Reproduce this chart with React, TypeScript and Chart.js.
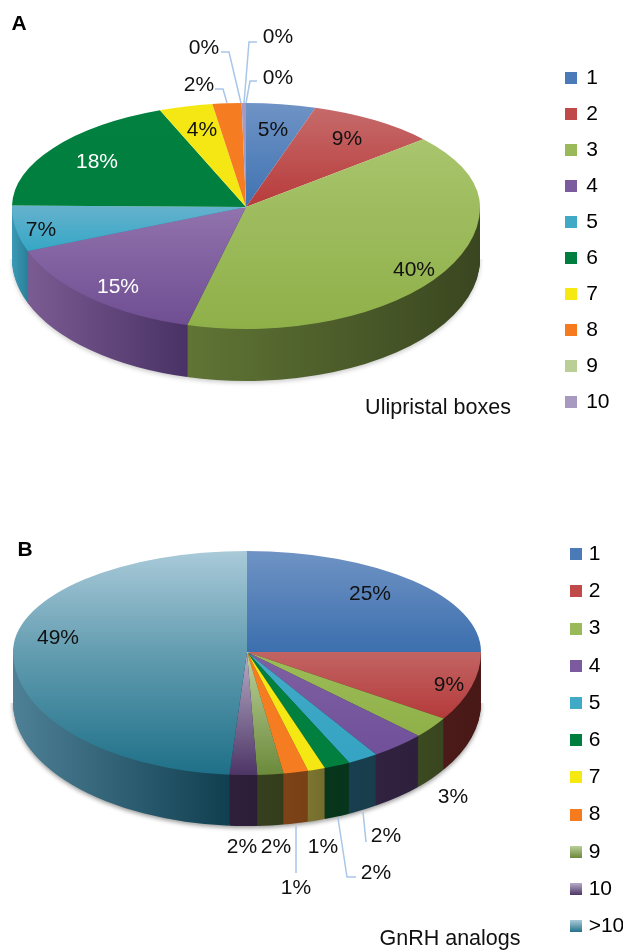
import React, { useEffect, useRef } from "react";
import { Chart, ArcElement, PieController, Legend } from "chart.js";

Chart.register(ArcElement, PieController, Legend);

const FONT = '"Liberation Sans", Arial, sans-serif';

// ---------- Panel A data ----------
const aCategories = ["1", "2", "3", "4", "5", "6", "7", "8", "9", "10"];
const aValues = [4.8, 8.9, 40.4, 15.1, 6.1, 18.8, 3.7, 2.0, 0.0, 0.3];
const aBase = ["#4a7ab8", "#c04a4a", "#9aba59", "#7c5a9e", "#3fa9c6", "#007e3f", "#f6e912", "#f67b1e", "#b9cf96", "#a899c0"];
const aTopLight = ["#6f93c5", "#c66a6a", "#a9c56e", "#9173ad", "#66b2cd", "#018040", "#f5e714", "#f57c20", "#b9cf96", "#a899c0"];
const aTopDark = ["#3f73b2", "#b83b3b", "#8fb049", "#6f4e92", "#35a7c6", "#017f3f", "#f5e714", "#f57c20", "#b9cf96", "#a899c0"];
const aSideLight = ["#2c4f7c", "#5a1f1e", "#607535", "#7b5b92", "#3b9ab6", "#045029", "#7c7430", "#8a4a18", "#5c6a40", "#4a3a5c"];
const aSideDark = ["#1f3a5c", "#3e1513", "#3a4620", "#493265", "#2b7f98", "#033a1d", "#6a6226", "#703a12", "#46522e", "#382a48"];

// ---------- Panel B data ----------
const bCategories = ["1", "2", "3", "4", "5", "6", "7", "8", "9", "10", ">10"];
const bValues = [25.0, 9.1, 2.8, 3.8, 2.1, 1.8, 1.2, 1.7, 1.8, 1.9, 48.8];
const bBase = ["#4a7ab8", "#c04a4a", "#9aba59", "#7c5a9e", "#3fa9c6", "#007e3f", "#f6e912", "#f67b1e", "#8aa863", "#6f5a8c", "#5e9cb4"];
const bTopLight = ["#6f93c4", "#c26464", "#9dbc58", "#7f60a2", "#42abc8", "#018040", "#f5e714", "#f57c20", "#bdd19d", "#b8adc8", "#a9cad9"];
const bTopDark = ["#3c6fae", "#b53a3a", "#8fb049", "#70509a", "#35a3c2", "#017f3f", "#f5e714", "#f57c20", "#6b8a3a", "#4d3566", "#1e7088"];
const bSideLight = ["#2c4f7c", "#4c1b19", "#3c4a20", "#31223f", "#183f50", "#07361d", "#7c7430", "#7e4317", "#36401d", "#2e1f3a", "#4e8096"];
const bSideDark = ["#24416a", "#471816", "#384520", "#2e203c", "#193d4c", "#07351c", "#746c2c", "#784016", "#333d1c", "#2c1d38", "#103f50"];

// ---------- Texts ----------
type Note = { text: string; x: number; y: number; color?: string };
type Leader = number[][];

const aNotes: Note[] = [
  { text: "5%", x: 273, y: 130 },
  { text: "9%", x: 347, y: 139 },
  { text: "40%", x: 414, y: 270 },
  { text: "15%", x: 118, y: 287, color: "#ffffff" },
  { text: "7%", x: 41, y: 230 },
  { text: "18%", x: 97, y: 162, color: "#ffffff" },
  { text: "4%", x: 202, y: 130 },
  { text: "2%", x: 199, y: 85 },
  { text: "0%", x: 204, y: 48 },
  { text: "0%", x: 278, y: 37 },
  { text: "0%", x: 278, y: 78 },
];
const aLeaders: Leader[] = [
  [[215, 89], [223, 89], [227, 103]],
  [[221, 52], [229, 52], [241, 103]],
  [[257, 42], [249, 42], [244, 103]],
  [[257, 81], [250, 81], [246, 103]],
];
const bNotes: Note[] = [
  { text: "25%", x: 370, y: 594 },
  { text: "9%", x: 449, y: 685 },
  { text: "49%", x: 58, y: 638 },
  { text: "3%", x: 453, y: 797 },
  { text: "2%", x: 386, y: 836 },
  { text: "2%", x: 376, y: 873 },
  { text: "1%", x: 296, y: 888 },
  { text: "1%", x: 323, y: 847 },
  { text: "2%", x: 242, y: 847 },
  { text: "2%", x: 276, y: 847 },
];
const bLeaders: Leader[] = [
  [[363, 812], [366, 842]],
  [[338, 818], [347, 877], [356, 877]],
  [[296, 826], [296, 873]],
];

type Panel = {
  categories: string[];
  values: number[];
  base: string[];
  topLight: string[];
  topDark: string[];
  sideLight: string[];
  sideDark: string[];
  notes: Note[];
  leaders: Leader[];
  letter: Note;
  caption: Note;
  cx: number;
  cy: number;
  rx: number;
  ryTop: number;
  ryBottom: number;
  depth: number;
  shadow: string;
  legendFadeFrom: number;
  padding: { top: number; bottom: number; right: number; left: number };
  legendGap: number;
  legendBox: number;
};

const panelA: Panel = {
  categories: aCategories,
  values: aValues,
  base: aBase,
  topLight: aTopLight,
  topDark: aTopDark,
  sideLight: aSideLight,
  sideDark: aSideDark,
  notes: aNotes,
  leaders: aLeaders,
  letter: { text: "A", x: 19, y: 24 },
  caption: { text: "Ulipristal boxes", x: 438, y: 408 },
  cx: 246,
  cy: 207,
  rx: 234,
  ryTop: 104,
  ryBottom: 122,
  depth: 52,
  shadow: "rgba(0,0,0,0.2)",
  legendFadeFrom: 99,
  padding: { top: 52.5, bottom: 520, right: 3.5, left: 0 },
  legendGap: 15,
  legendBox: 9,
};

const panelB: Panel = {
  categories: bCategories,
  values: bValues,
  base: bBase,
  topLight: bTopLight,
  topDark: bTopDark,
  sideLight: bSideLight,
  sideDark: bSideDark,
  notes: bNotes,
  leaders: bLeaders,
  letter: { text: "B", x: 25, y: 550 },
  caption: { text: "GnRH analogs", x: 450, y: 939 },
  cx: 247,
  cy: 652,
  rx: 234,
  ryTop: 101,
  ryBottom: 123,
  depth: 51,
  shadow: "rgba(0,0,0,0.4)",
  legendFadeFrom: 8,
  padding: { top: 527.5, bottom: -40, right: -11.3, left: 0 },
  legendGap: 16.2,
  legendBox: 4,
};

function angleBounds(start: number, end: number, fn: (a: number) => number) {
  let lo = Infinity;
  let hi = -Infinity;
  const steps = 90;
  for (let i = 0; i <= steps; i++) {
    const v = fn(start + ((end - start) * i) / steps);
    if (v < lo) lo = v;
    if (v > hi) hi = v;
  }
  return [lo, hi];
}

function pie3dPlugin(p: Panel) {
  return {
    id: "pie3d",
    beforeDatasetsDraw(chart: any) {
      const ctx: CanvasRenderingContext2D = chart.ctx;
      const arcs: any[] = chart.getDatasetMeta(0).data;
      const W = chart.width;
      const H = chart.height;

      const quadrant = (right: boolean, down: boolean, dy: number, paint: () => void, R: number, ax: number, ay: number) => {
        ctx.save();
        ctx.beginPath();
        const x0 = right ? p.cx : 0;
        const x1 = right ? W : p.cx;
        const y0 = down ? p.cy + dy : 0;
        const y1 = down ? H : p.cy + dy;
        ctx.rect(x0, y0, x1 - x0, y1 - y0);
        ctx.clip();
        ctx.translate(p.cx, p.cy + dy);
        ctx.scale(p.rx / R, (down ? p.ryBottom : p.ryTop) / R);
        ctx.translate(-ax, -ay);
        paint();
        ctx.restore();
      };

      const withFill = (arc: any, fill: any) => {
        const a = new (ArcElement as any)();
        Object.assign(a, {
          x: arc.x,
          y: arc.y,
          startAngle: arc.startAngle,
          endAngle: arc.endAngle,
          innerRadius: arc.innerRadius,
          outerRadius: arc.outerRadius,
          circumference: arc.circumference,
          options: { ...arc.options, backgroundColor: fill, borderWidth: 0 },
        });
        return a;
      };

      // side wall: painted layer by layer from the bottom up
      const sides = arcs.map((arc, i) => {
        const from = Math.max(arc.startAngle, 0);
        const to = Math.min(arc.endAngle, Math.PI);
        const R = arc.outerRadius;
        let x0 = arc.x - R;
        let x1 = arc.x + R;
        if (to > from) {
          const b = angleBounds(from, to, (a) => arc.x + R * Math.cos(a));
          x0 = b[0];
          x1 = b[1];
        }
        const g = ctx.createLinearGradient(x0, 0, Math.max(x1, x0 + 1), 0);
        g.addColorStop(0, p.sideLight[i]);
        g.addColorStop(1, p.sideDark[i]);
        return withFill(arc, g);
      });

      const first = arcs[0];
      for (let dy = p.depth; dy >= 1; dy--) {
        for (const right of [false, true]) {
          quadrant(
            right,
            true,
            dy,
            () => {
              if (dy === p.depth) {
                ctx.shadowColor = p.shadow;
                ctx.shadowBlur = 4;
                ctx.shadowOffsetY = 2;
              }
              sides.forEach((s) => s.draw(ctx));
            },
            first.outerRadius,
            first.x,
            first.y
          );
        }
      }

      // top surface
      const tops = arcs.map((arc, i) => {
        const R = arc.outerRadius;
        const pts = [arc.y];
        const [lo, hi] = angleBounds(arc.startAngle, arc.endAngle, (a) => arc.y + R * Math.sin(a));
        pts.push(lo, hi);
        const g = ctx.createLinearGradient(0, Math.min(...pts), 0, Math.max(Math.max(...pts), Math.min(...pts) + 1));
        g.addColorStop(0, p.topLight[i]);
        g.addColorStop(1, p.topDark[i]);
        return withFill(arc, g);
      });
      for (const right of [false, true]) {
        for (const down of [false, true]) {
          quadrant(right, down, 0, () => tops.forEach((s) => s.draw(ctx)), first.outerRadius, first.x, first.y);
        }
      }
      return false;
    },
    afterDraw(chart: any) {
      const ctx: CanvasRenderingContext2D = chart.ctx;
      ctx.save();
      ctx.strokeStyle = "#a9c6e8";
      ctx.lineWidth = 1.5;
      p.leaders.forEach((line) => {
        ctx.beginPath();
        line.forEach(([x, y], i) => (i ? ctx.lineTo(x, y) : ctx.moveTo(x, y)));
        ctx.stroke();
      });
      ctx.textAlign = "center";
      ctx.textBaseline = "middle";
      ctx.font = `21px ${FONT}`;
      p.notes.forEach((n) => {
        ctx.fillStyle = n.color ?? "#111111";
        ctx.fillText(n.text, n.x, n.y);
      });
      ctx.font = `21.5px ${FONT}`;
      ctx.fillStyle = "#111111";
      ctx.fillText(p.caption.text, p.caption.x, p.caption.y);
      ctx.font = `bold 21px ${FONT}`;
      ctx.fillStyle = "#000000";
      ctx.fillText(p.letter.text, p.letter.x, p.letter.y);
      ctx.restore();
    },
  };
}

function legendSwatch(p: Panel, i: number) {
  const c = document.createElement("canvas");
  c.width = 12;
  c.height = 12;
  const x = c.getContext("2d")!;
  if (i >= p.legendFadeFrom) {
    const g = x.createLinearGradient(0, 0, 0, 12);
    g.addColorStop(0, p.topLight[i]);
    g.addColorStop(1, p.topDark[i]);
    x.fillStyle = g;
  } else {
    x.fillStyle = p.base[i];
  }
  x.fillRect(0, 0, 12, 12);
  return c;
}

function PieCanvas({ panel }: { panel: Panel }) {
  const ref = useRef<HTMLCanvasElement | null>(null);
  useEffect(() => {
    const chart = new Chart(ref.current!, {
      type: "pie",
      data: {
        labels: panel.categories,
        datasets: [{ data: panel.values, backgroundColor: panel.base, borderWidth: 0 }],
      },
      options: {
        responsive: false,
        animation: false,
        layout: { padding: panel.padding },
        plugins: {
          tooltip: { enabled: false },
          legend: {
            display: true,
            position: "right",
            align: "start",
            labels: {
              color: "#1f5ba8",
              font: { family: FONT, size: 21 },
              boxWidth: panel.legendBox,
              boxHeight: panel.legendBox,
              usePointStyle: true,
              padding: panel.legendGap,
              generateLabels: () =>
                panel.categories.map((text, i) => ({
                  text,
                  fillStyle: panel.base[i],
                  strokeStyle: panel.base[i],
                  lineWidth: 0,
                  hidden: false,
                  index: i,
                  pointStyle: legendSwatch(panel, i),
                })),
            },
          },
        },
      },
      plugins: [pie3dPlugin(panel)],
    } as any);
    return () => chart.destroy();
  }, [panel]);
  return (
    <canvas
      ref={ref}
      width={623}
      height={950}
      style={{ position: "absolute", left: 0, top: 0, display: "block", width: 623, height: 950 }}
    />
  );
}

export default function App() {
  return (
    <div style={{ position: "absolute", left: 0, top: 0, width: 623, height: 950, background: "#fff", overflow: "hidden" }}>
      <PieCanvas panel={panelA} />
      <PieCanvas panel={panelB} />
    </div>
  );
}
